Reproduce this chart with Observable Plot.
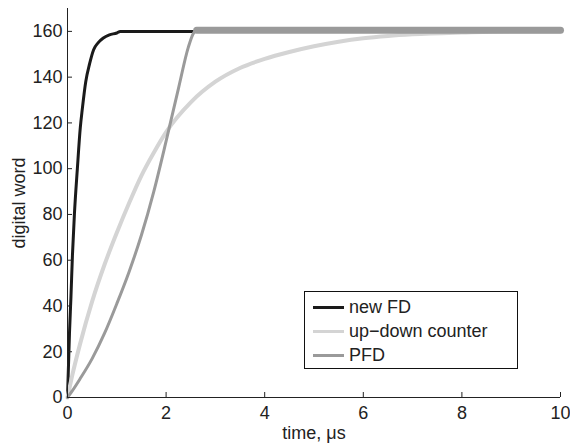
<!DOCTYPE html>
<html>
<head>
<meta charset="utf-8">
<script src="https://cdn.jsdelivr.net/npm/d3@7"></script>
<script src="https://cdn.jsdelivr.net/npm/@observablehq/plot@0.6"></script>
<style>
  html, body { margin: 0; padding: 0; background: #fff; }
  body { font-family: "Liberation Sans", Arial, Helvetica, sans-serif; }
  #wrap { position: relative; width: 570px; height: 443px; }
  #legend { position: absolute; left: 304px; top: 291px; width: 212px; height: 76px;
            border: 1px solid #111; background: #fff; }
  .row { position: absolute; left: 0; height: 20px; width: 212px; }
  .swatch { position: absolute; left: 8px; width: 31px; top: 9px; height: 3px; }
  .lab { position: absolute; left: 44px; top: 0; font-size: 18px; line-height: 20px; color: #222; white-space: nowrap; }
</style>
</head>
<body>
<div id="wrap"></div>
<script>
// new FD (black)
const fdT = [0, 0.02, 0.04, 0.07, 0.1, 0.14, 0.2, 0.26, 0.3, 0.37, 0.45, 0.53, 0.62, 0.72, 0.85, 1.0, 1.07, 2.6, 10];
const fdV = [0, 14, 28, 44, 62, 80, 100, 118, 126, 138, 146, 152, 155, 157, 158.5, 159.3, 160, 160, 160];

// up-down counter (light gray)
const udT = [0, 0.1, 0.25, 0.5, 0.75, 1.0, 1.25, 1.5, 1.75, 2.0, 2.5, 3.0, 3.5, 4.0, 4.5, 5.0, 5.5, 6.0, 6.5, 7.0, 8.0, 9.0, 10];
const udV = [0, 10, 23, 42, 58, 72, 85, 97, 107, 116, 129, 138, 144, 148, 151, 153.5, 155.5, 157, 158, 158.7, 159.5, 160, 160];

// PFD (mid gray)
const pfdT = [0, 0.1, 0.25, 0.5, 0.75, 1.0, 1.25, 1.5, 1.75, 2.0, 2.25, 2.45, 2.55, 2.62, 10];
const pfdV = [0, 3, 8, 17, 28, 41, 55, 71, 90, 112, 135, 153, 159, 160.5, 160.5];

const xTicks = [0, 2, 4, 6, 8, 10];
const yTicks = [0, 20, 40, 60, 80, 100, 120, 140, 160];

const seriesNames = ["new FD", "up\u2212down counter", "PFD"];
const seriesColors = ["#1a1a1a", "#d4d4d4", "#9a9a9a"];
const xLabel = "time, \u03bcs";
const yLabel = "digital word";

const fd = fdT.map((t, i) => ({t, v: fdV[i]}));
const ud = udT.map((t, i) => ({t, v: udV[i]}));
const pfd = pfdT.map((t, i) => ({t, v: pfdV[i]}));
const pfdPlateau = pfd.filter(d => d.t >= 2.6);

const W = 570, H = 443, mL = 67, mR = 10, mT = 8, mB = 46;
const frameW = W - mL - mR, frameH = H - mT - mB;

const chart = Plot.plot({
  width: W, height: H,
  marginLeft: mL, marginRight: mR, marginTop: mT, marginBottom: mB,
  style: { fontFamily: "Liberation Sans, Arial, sans-serif", fontSize: "18px", color: "#222", background: "#fff" },
  x: { domain: [0, 10] },
  y: { domain: [0, 170] },
  marks: [
    Plot.line(fd, { x: "t", y: "v", stroke: seriesColors[0], strokeWidth: 3, curve: "monotone-x" }),
    Plot.line(ud, { x: "t", y: "v", stroke: seriesColors[1], strokeWidth: 4, curve: "monotone-x" }),
    Plot.line(pfd, { x: "t", y: "v", stroke: seriesColors[2], strokeWidth: 3, curve: "monotone-x" }),
    Plot.line(pfdPlateau, { x: "t", y: "v", stroke: seriesColors[2], strokeWidth: 7, strokeLinecap: "round" }),
    Plot.ruleX([0], { stroke: "#222" }),
    Plot.ruleY([0], { stroke: "#222" }),
    Plot.tickX(xTicks, { x: d => d, stroke: "#222", insetTop: frameH - 5 }),
    Plot.tickY(yTicks, { y: d => d, stroke: "#222", insetRight: frameW - 5 }),
    Plot.axisX({ ticks: xTicks, tickSize: 0, tickPadding: 9, label: null, tickFormat: d => String(d), fontSize: 18 }),
    Plot.axisY({ ticks: yTicks, tickSize: 0, tickPadding: 5, label: null, tickFormat: d => String(d), fontSize: 18 }),
    Plot.text([xLabel], { text: d => d, frameAnchor: "bottom", dy: 29, lineAnchor: "top", textAnchor: "middle", fill: "#222", fontSize: 18 }),
    Plot.text([yLabel], { text: d => d, frameAnchor: "left", dx: -48, rotate: -90, textAnchor: "middle", lineAnchor: "middle", fill: "#222", fontSize: 18 })
  ]
});

const wrap = document.getElementById("wrap");
wrap.appendChild(chart);

const legend = document.createElement("div");
legend.id = "legend";
seriesNames.forEach((name, i) => {
  const row = document.createElement("div");
  row.className = "row";
  row.style.top = (5 + i * 24) + "px";
  const sw = document.createElement("div");
  sw.className = "swatch";
  sw.style.background = seriesColors[i];
  const lab = document.createElement("div");
  lab.className = "lab";
  lab.textContent = name;
  row.appendChild(sw);
  row.appendChild(lab);
  legend.appendChild(row);
});
wrap.appendChild(legend);
</script>
</body>
</html>
